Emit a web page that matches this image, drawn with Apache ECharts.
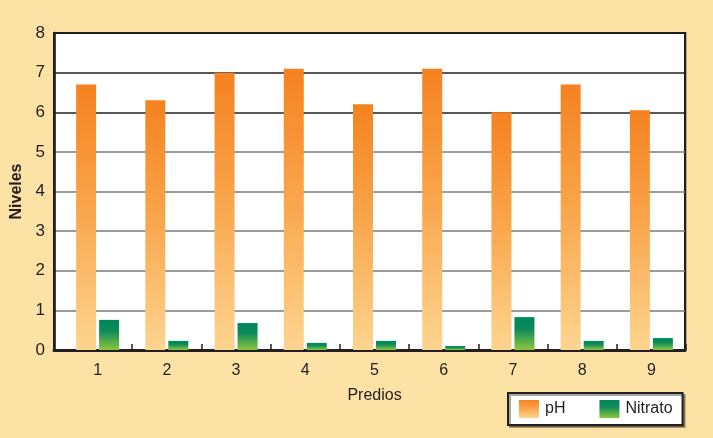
<!DOCTYPE html>
<html>
<head>
<meta charset="utf-8">
<script src="https://cdn.jsdelivr.net/npm/echarts@6/dist/echarts.min.js"></script>
<style>
  html, body { margin: 0; padding: 0; background: #FDE2A6; }
  #chart { width: 713px; height: 438px; }
</style>
</head>
<body>
<div id="chart"></div>
<script>
// Soil readings per plot
const categories = ['1', '2', '3', '4', '5', '6', '7', '8', '9'];
const phValues = [6.7, 6.3, 7.0, 7.1, 6.2, 7.1, 6.0, 6.7, 6.05];
const nitratoValues = [0.76, 0.23, 0.68, 0.18, 0.23, 0.10, 0.83, 0.23, 0.30];
const seriesNames = ['pH', 'Nitrato'];

const FONT = '"Liberation Sans", Arial, sans-serif';
const INK = '#231F20';

const orangeFill = new echarts.graphic.LinearGradient(0, 0, 0, 1, [
  { offset: 0, color: '#F58220' },
  { offset: 0.45, color: '#F9A449' },
  { offset: 1, color: '#FDD590' }
]);
const greenFill = new echarts.graphic.LinearGradient(0, 0, 0, 1, [
  { offset: 0, color: '#00875A' },
  { offset: 0.35, color: '#0A8A5A' },
  { offset: 1, color: '#8DC63F' }
]);

// Grid line shades: lighter in the lower band, dark near the top
const splitColors = ['#7a7a7a', '#7a7a7a', '#7a7a7a', '#7a7a7a', '#7a7a7a', '#7a7a7a', '#231F20', '#231F20', '#231F20'];

const chart = echarts.init(document.getElementById('chart'), null, { renderer: 'canvas' });

chart.setOption({
  backgroundColor: '#FDE2A6',
  animation: false,
  textStyle: { fontFamily: FONT, color: INK },
  grid: [
    {
      left: 54, right: 28, top: 33, bottom: 88,
      show: true, backgroundColor: '#ffffff',
      borderColor: INK, borderWidth: 2,
      shadowColor: 'rgba(0,0,0,0.25)', shadowBlur: 0, shadowOffsetX: 1, shadowOffsetY: 0
    },
    { left: 63, right: 27, top: 33, bottom: 88 }
  ],
  xAxis: [
    {
      gridIndex: 0, type: 'value', min: 0, max: 1,
      axisLine: { show: true, onZero: false, lineStyle: { color: INK, width: 3 } },
      axisTick: { show: false }, axisLabel: { show: false }, splitLine: { show: false }
    },
    {
      gridIndex: 1, type: 'category', data: categories,
      axisLine: { show: false },
      axisTick: {
        show: true, inside: true, length: 6,
        interval: function (index) { return index > 0; },
        lineStyle: { color: INK, width: 1.5 }
      },
      axisLabel: { fontSize: 16, color: INK, margin: 13, fontFamily: FONT },
      name: 'Predios', nameLocation: 'middle', nameGap: 38,
      nameTextStyle: { fontSize: 16, color: INK, fontFamily: FONT }
    }
  ],
  yAxis: [
    {
      gridIndex: 0, type: 'value', min: 0, max: 8, interval: 1,
      axisLine: { show: true, lineStyle: { color: INK, width: 2.5 } },
      axisTick: { show: false },
      axisLabel: { fontSize: 17, color: INK, margin: 9, fontFamily: FONT },
      splitLine: { show: true, lineStyle: { color: splitColors, width: 1.5 } },
      name: 'Niveles', nameLocation: 'middle', nameGap: 28,
      nameTextStyle: { fontSize: 16, fontWeight: 'bold', color: INK, fontFamily: FONT }
    },
    {
      gridIndex: 1, type: 'value', min: 0, max: 8, interval: 1,
      axisLine: { show: false }, axisTick: { show: false },
      axisLabel: { show: false }, splitLine: { show: false }
    }
  ],
  legend: {
    data: seriesNames,
    left: 508, top: 393,
    orient: 'horizontal',
    padding: [7, 10, 7, 11],
    itemWidth: 20, itemHeight: 18, itemGap: 34,
    icon: 'rect',
    backgroundColor: '#ffffff',
    borderColor: INK, borderWidth: 2, borderRadius: 0,
    shadowColor: 'rgba(0,0,0,0.35)', shadowBlur: 0, shadowOffsetX: 2, shadowOffsetY: 2,
    textStyle: { fontSize: 16, color: INK, fontFamily: FONT, padding: [0, 0, 0, 1] }
  },
  series: [
    {
      name: seriesNames[0], type: 'bar', xAxisIndex: 1, yAxisIndex: 1,
      data: phValues, barWidth: 20, barGap: '15%',
      itemStyle: { color: orangeFill }
    },
    {
      name: seriesNames[1], type: 'bar', xAxisIndex: 1, yAxisIndex: 1,
      data: nitratoValues, barWidth: 20,
      itemStyle: { color: greenFill }
    }
  ]
});
</script>
</body>
</html>
